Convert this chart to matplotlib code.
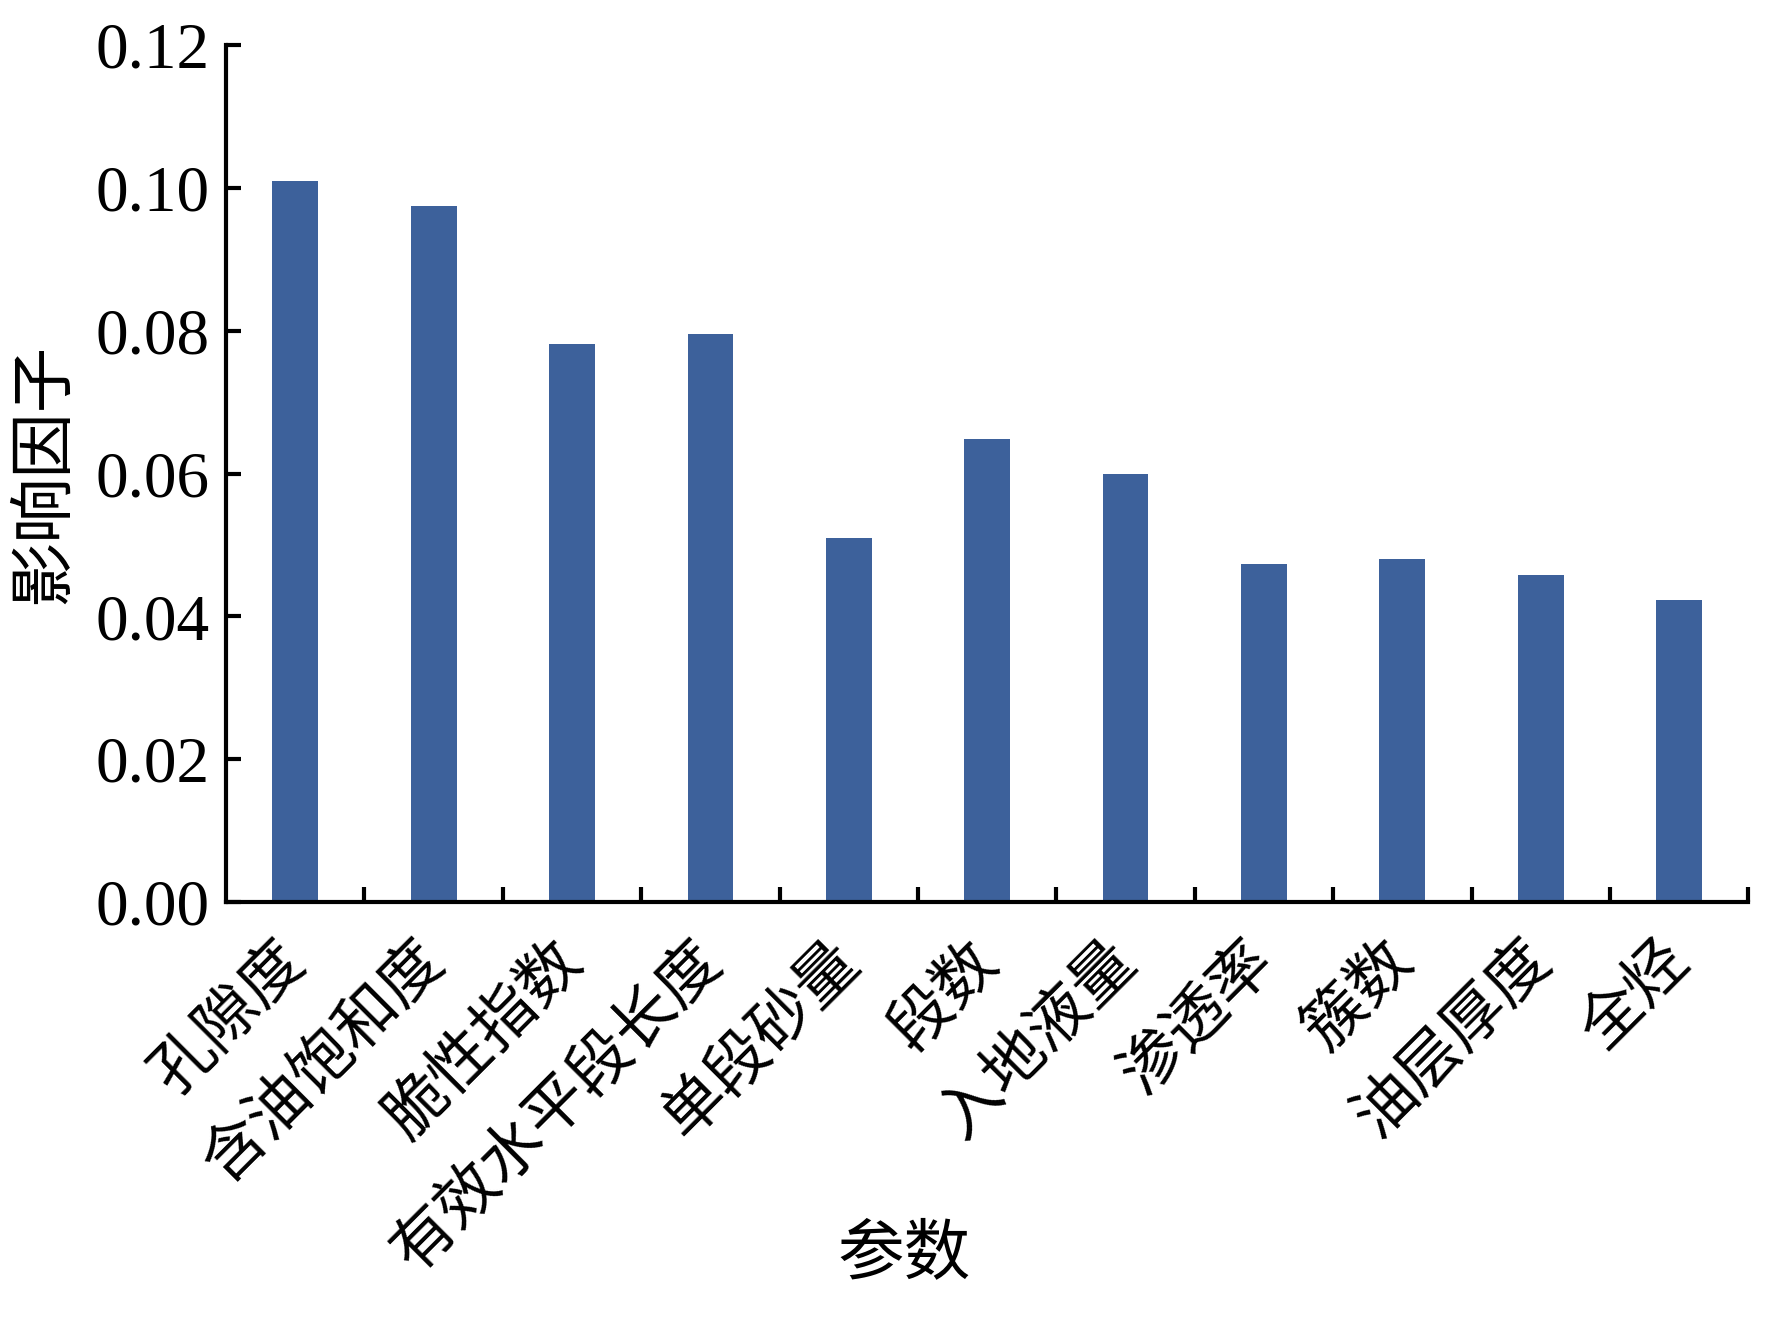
import numpy as np
import matplotlib.pyplot as plt
from matplotlib.ticker import FixedLocator

params = ["孔隙度", "含油饱和度", "脆性指数", "有效水平段长度", "单段砂量", "段数",
          "入地液量", "渗透率", "簇数", "油层厚度", "全烃"]
influence = [0.1010, 0.0975, 0.0782, 0.0795, 0.0510, 0.0649,
             0.0600, 0.0473, 0.0480, 0.0458, 0.0423]
yticks = [0.00, 0.02, 0.04, 0.06, 0.08, 0.10, 0.12]

fonts = ['Liberation Serif', 'Noto Sans CJK SC', 'DejaVu Sans']
plt.rcParams['font.family'] = fonts

fig = plt.figure(figsize=(17.72, 13.2), dpi=100)
ax = fig.add_axes([0.1276, 0.3167, 0.8590, 0.6491])

x = np.arange(len(params))
ax.bar(x, influence, width=0.33, color="#3D619B")

ax.set_xlim(-0.5, len(params) - 0.5)
ax.set_ylim(0, 0.12)
ax.set_yticks(yticks)
ax.set_yticklabels([f"{v:.2f}" for v in yticks], fontsize=47)

# label anchors sit slightly left of the bar centres, as in the original
ax.set_xticks(x - 0.13)
ax.set_xticklabels(params, rotation=45, ha='right', va='top',
                   rotation_mode='anchor', fontsize=45)
ax.xaxis.set_minor_locator(FixedLocator(np.arange(0.5, len(params), 1.0)))

for side in ['top', 'right']:
    ax.spines[side].set_visible(False)
for side in ['left', 'bottom']:
    ax.spines[side].set_linewidth(3)

ax.tick_params(axis='x', which='major', length=0, pad=22)
ax.tick_params(axis='x', which='minor', direction='in', length=11, width=3)
ax.tick_params(axis='y', direction='in', length=11, width=3, pad=12)

ax.set_ylabel("影响因子", fontsize=47, labelpad=14)
fig.text(0.51, 0.048, "参数", fontsize=48, ha='center', va='center')

fig.savefig("out.png", dpi=100)
